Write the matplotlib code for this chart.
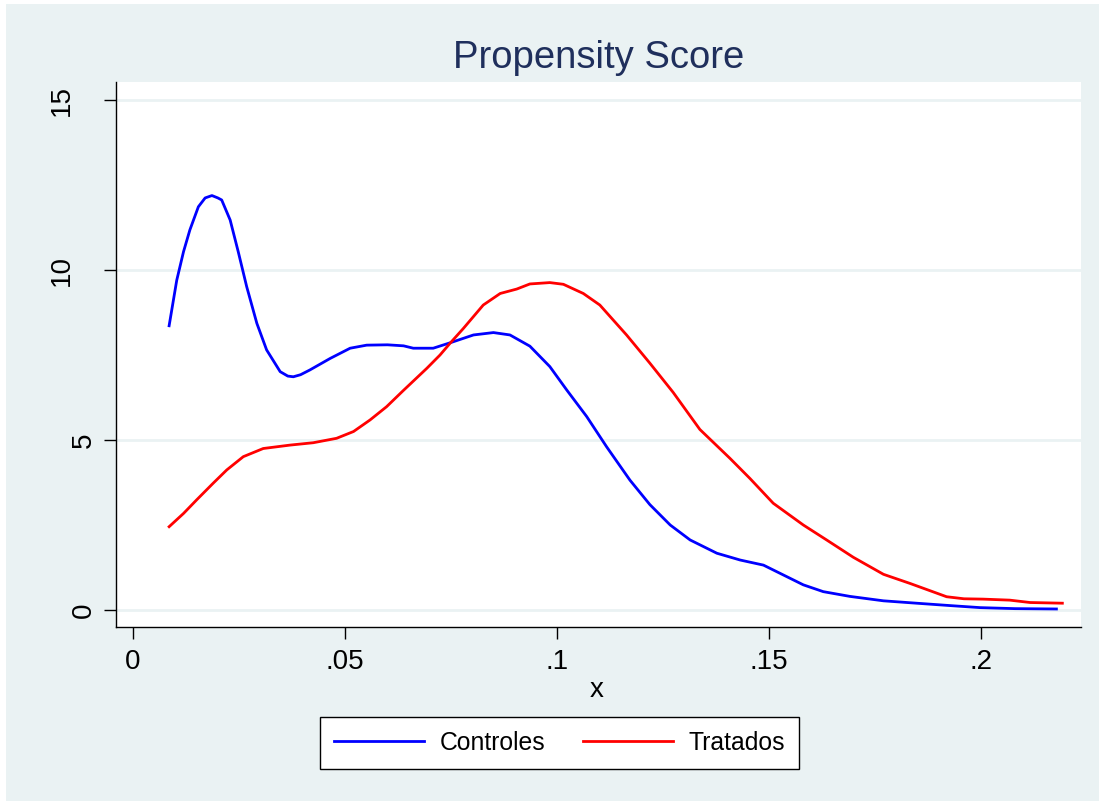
import matplotlib
matplotlib.use("Agg")
import matplotlib.pyplot as plt
from matplotlib.patches import Rectangle
from matplotlib.lines import Line2D
from matplotlib.transforms import ScaledTranslation

plt.rcParams['font.family'] = ['Liberation Sans', 'DejaVu Sans']

# Kernel density of propensity score - Controles
ctrl_x = [0.0085, 0.0103, 0.0119, 0.0134, 0.0154, 0.0170, 0.0186, 0.0200, 0.0209, 0.0229,
          0.0248, 0.0268, 0.0292, 0.0315, 0.0347, 0.0365, 0.0378, 0.0395, 0.0417, 0.0465,
          0.0512, 0.0551, 0.0600, 0.0638, 0.0661, 0.0708, 0.0748, 0.0803, 0.0850, 0.0889,
          0.0936, 0.0983, 0.1023, 0.1070, 0.1117, 0.1172, 0.1219, 0.1267, 0.1314, 0.1377,
          0.1432, 0.1487, 0.1534, 0.1581, 0.1628, 0.1691, 0.1770, 0.1848, 0.1927, 0.1998,
          0.2080, 0.2178]
ctrl_y = [8.36, 9.70, 10.54, 11.18, 11.86, 12.12, 12.19, 12.12, 12.06, 11.47,
          10.54, 9.51, 8.43, 7.65, 7.01, 6.88, 6.86, 6.92, 7.06, 7.40,
          7.70, 7.79, 7.80, 7.77, 7.70, 7.70, 7.86, 8.09, 8.16, 8.09,
          7.76, 7.16, 6.47, 5.69, 4.80, 3.82, 3.10, 2.50, 2.06, 1.67,
          1.47, 1.32, 1.03, 0.74, 0.54, 0.40, 0.27, 0.20, 0.13, 0.07,
          0.04, 0.03]

# Kernel density of propensity score - Tratados
trat_x = [0.0085, 0.0119, 0.0150, 0.0189, 0.0221, 0.0260, 0.0307, 0.0370, 0.0425, 0.0480,
          0.0520, 0.0559, 0.0598, 0.0637, 0.0693, 0.0724, 0.0748, 0.0779, 0.0826, 0.0866,
          0.0905, 0.0936, 0.0983, 0.1015, 0.1062, 0.1101, 0.1164, 0.1219, 0.1274, 0.1337,
          0.1408, 0.1455, 0.1510, 0.1581, 0.1636, 0.1699, 0.1770, 0.1833, 0.1919, 0.1960,
          0.2005, 0.2068, 0.2116, 0.2192]
trat_y = [2.45, 2.84, 3.24, 3.73, 4.12, 4.51, 4.75, 4.85, 4.92, 5.05,
          5.25, 5.59, 5.98, 6.45, 7.11, 7.50, 7.85, 8.28, 8.97, 9.31,
          9.44, 9.59, 9.63, 9.58, 9.31, 8.97, 8.09, 7.26, 6.40, 5.31,
          4.46, 3.87, 3.14, 2.50, 2.06, 1.55, 1.05, 0.78, 0.39, 0.33,
          0.32, 0.29, 0.22, 0.20]

series_labels = ["Controles", "Tratados"]
x_ticks = [0, 0.05, 0.1, 0.15, 0.2]
x_tick_labels = ["0", ".05", ".1", ".15", ".2"]
y_ticks = [0, 5, 10, 15]
y_tick_labels = ["0", "5", "10", "15"]

W, H = 1099, 801
BG = '#EAF2F3'
fig = plt.figure(figsize=(W / 100, H / 100), dpi=100, facecolor='white')
fig.patches.append(Rectangle((6 / W, 0), 1, (H - 4) / H, transform=fig.transFigure,
                             facecolor=BG, edgecolor='none', zorder=-10))

ax = fig.add_axes([115.7 / W, (H - 627) / H, (1081 - 115.7) / W, (627 - 82) / H])
ax.set_facecolor('white')
ax.plot(ctrl_x, ctrl_y, color='#0000FF', lw=2.0, label=series_labels[0], zorder=3)
ax.plot(trat_x, trat_y, color='#FF0000', lw=2.0, label=series_labels[1], zorder=3)

ax.set_xlim(-0.0041, 0.2236)
ax.set_ylim(-0.5, 15.53)
ax.set_xticks(x_ticks)
ax.set_xticklabels(x_tick_labels)
ax.set_yticks(y_ticks)
ax.set_yticklabels(y_tick_labels, rotation=90, va='center')

ax.grid(axis='y', color=BG, lw=2.0, zorder=0)
ax.set_axisbelow(True)
for s in ['top', 'right']:
    ax.spines[s].set_visible(False)
for s in ['left', 'bottom']:
    ax.spines[s].set_color('black')
    ax.spines[s].set_linewidth(1.0)
ax.tick_params(axis='both', direction='out', length=8.5, width=1.0, color='black',
               labelsize=20, labelcolor='black')
ax.tick_params(axis='x', pad=7)
ax.tick_params(axis='y', pad=5)
# Stata-style placement: longer labels sit further from the axis
for lab in ax.get_yticklabels():
    if len(lab.get_text()) > 1:
        lab.set_transform(lab.get_transform() + ScaledTranslation(-22 / 100, 0, fig.dpi_scale_trans))

fig.text(597 / W, (H - 697) / H, "x", ha='center', va='baseline', fontsize=20, color='black')
fig.text(599 / W, (H - 68) / H, "Propensity Score", ha='center', va='baseline',
         fontsize=27.5, color='#1F2F5C')

handles = [Line2D([0], [0], color='#0000FF', lw=2.0), Line2D([0], [0], color='#FF0000', lw=2.0)]
leg = fig.legend(handles, series_labels, loc='center', bbox_to_anchor=(559.5 / W, (H - 743) / H),
                 ncol=2, fontsize=17.8, frameon=True, fancybox=False, shadow=False,
                 handlelength=3.65, handletextpad=0.65, columnspacing=1.5, borderpad=0.55)
leg.get_frame().set_edgecolor('black')
leg.get_frame().set_linewidth(1.0)
leg.get_frame().set_facecolor('white')
leg.get_frame().set_alpha(1)

fig.savefig('out.png', dpi=100, facecolor='white')
